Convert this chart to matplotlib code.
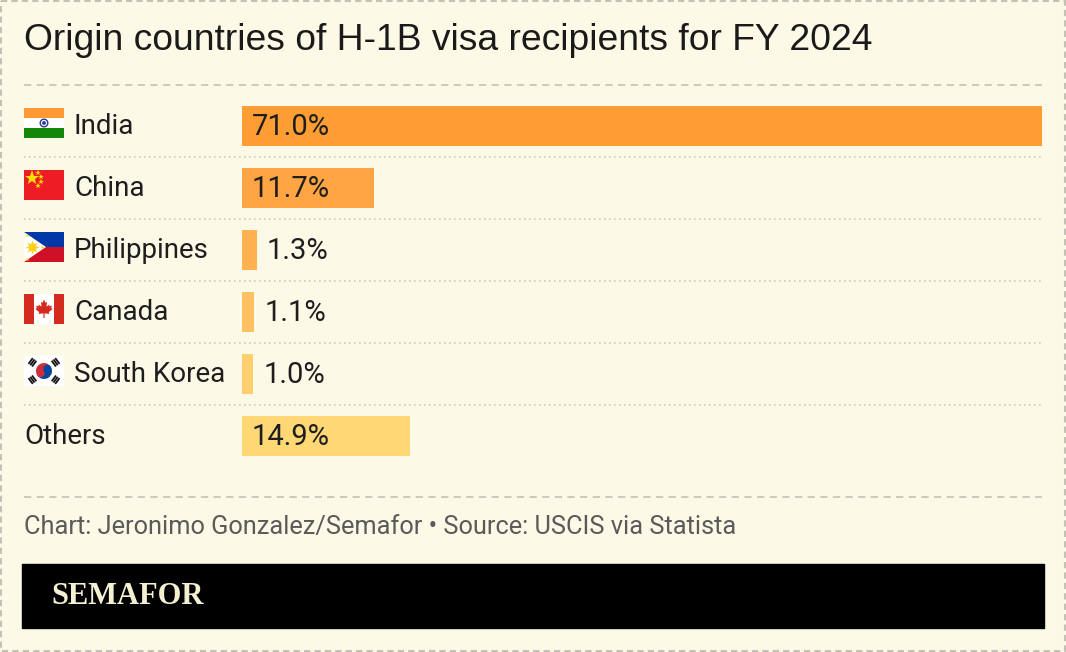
import matplotlib
matplotlib.use("Agg")
import matplotlib.pyplot as plt
from matplotlib.patches import Rectangle, Polygon, Circle, Wedge
import numpy as np

# ---- data ----
countries = ["India", "China", "Philippines", "Canada", "South Korea", "Others"]
shares = [71.0, 11.7, 1.3, 1.1, 1.0, 14.9]
value_labels = ["71.0%", "11.7%", "1.3%", "1.1%", "1.0%", "14.9%"]
bar_colors = ["#FF9D35", "#FFA543", "#FFB24F", "#FFC160", "#FFCF6E", "#FFD876"]
inside = [True, True, False, False, False, True]
title = "Origin countries of H-1B visa recipients for FY 2024"
footer = "Chart: Jeronimo Gonzalez/Semafor \u2022 Source: USCIS via Statista"
brand = "SEMAFOR"

BG = "#FDF9E7"
W, H = 1066, 652
fig = plt.figure(figsize=(W / 100, H / 100), dpi=100, facecolor=BG)

# overlay axes in pixel coordinates
ov = fig.add_axes([0, 0, 1, 1], zorder=0)
ov.set_xlim(0, W)
ov.set_ylim(H, 0)
ov.axis("off")

# outer dashed border
ov.add_patch(Rectangle((1, 1), W - 2.5, H - 2.5, fill=False, ec="#C4C1B6",
                       lw=1.5, ls=(0, (3, 2))))

# title
ov.text(24, 50, title, fontsize=26.8, family="Liberation Sans", color="#1A1A1A",
        va="baseline", ha="left")

# dashed rules
ov.plot([24, 1042], [85, 85], color="#C9C6BB", lw=1.3, ls=(0, (4, 3)))
ov.plot([24, 1042], [497, 497], color="#C9C6BB", lw=1.3, ls=(0, (4, 3)))

row0, step = 126, 62
for i in range(1, len(countries)):
    y = row0 + step * i - step / 2
    ov.plot([24, 1042], [y, y], color="#CFCBBE", lw=1.2, ls=(0, (1, 2)))

# footer
ov.text(24, 527, footer, fontsize=18.3, family="Roboto", color="#5A5A5A",
        va="center", ha="left")
ov.add_patch(Rectangle((22, 564), 1022, 64, color="#000000"))
ov.text(51, 597, brand, fontsize=22, family="Liberation Serif", weight="bold",
        color="#F6F0D2", va="center", ha="left")

# ---- flags ----
def flag_india(x, y):
    ov.add_patch(Rectangle((x, y), 40, 10, color="#FF9933", lw=0))
    ov.add_patch(Rectangle((x, y + 10), 40, 10, color="#FFFFFF", lw=0))
    ov.add_patch(Rectangle((x, y + 20), 40, 10, color="#138808", lw=0))
    ov.add_patch(Circle((x + 20, y + 15), 3.8, fill=False, ec="#2A3A8C", lw=1))
    ov.add_patch(Circle((x + 20, y + 15), 1.2, color="#2A3A8C"))

def flag_china(x, y):
    ov.add_patch(Rectangle((x, y), 40, 30, color="#EE1C25", lw=0))
    ov.plot([x + 7.5], [y + 8], marker="*", ms=11, color="#FFDE00", mew=0)
    for dx, dy in [(14, 3), (17, 7), (17, 12), (14, 15.5)]:
        ov.plot([x + dx], [y + dy], marker="*", ms=3.8, color="#FFDE00", mew=0)

def flag_ph(x, y):
    ov.add_patch(Rectangle((x, y), 40, 15, color="#0038A8", lw=0))
    ov.add_patch(Rectangle((x, y + 15), 40, 15, color="#CE1126", lw=0))
    ov.add_patch(Polygon([(x, y), (x + 22, y + 15), (x, y + 30)], color="#FFFFFF", lw=0))
    ov.plot([x + 8], [y + 15], marker=(8, 1, 0), ms=10, color="#FCD116", mew=0)
    for sx, sy in [(x + 2.5, y + 3), (x + 2.5, y + 27), (x + 17.5, y + 15)]:
        ov.plot([sx], [sy], marker="*", ms=3, color="#FCD116", mew=0)

def flag_canada(x, y):
    ov.add_patch(Rectangle((x, y), 40, 30, color="#FFFFFF", lw=0))
    ov.add_patch(Rectangle((x, y), 10, 30, color="#D52B1E", lw=0))
    ov.add_patch(Rectangle((x + 30, y), 10, 30, color="#D52B1E", lw=0))
    cx, cy = x + 20, y + 15
    leaf = [(0, -10), (1.6, -6.5), (3.2, -7.5), (2.6, -2.5), (6, -5), (5.2, -3),
            (8.5, -3.5), (7.4, -1.2), (9, 0), (5, 3.4), (5.6, 5.2), (0.6, 4.6),
            (0.6, 9.5), (-0.6, 9.5), (-0.6, 4.6), (-5.6, 5.2), (-5, 3.4), (-9, 0),
            (-7.4, -1.2), (-8.5, -3.5), (-5.2, -3), (-6, -5), (-2.6, -2.5),
            (-3.2, -7.5), (-1.6, -6.5)]
    ov.add_patch(Polygon([(cx + a * 0.95, cy + b * 0.95) for a, b in leaf],
                         color="#D52B1E", lw=0))

def flag_korea(x, y):
    ov.add_patch(Rectangle((x, y), 40, 30, color="#FFFFFF", lw=0))
    cx, cy, r = x + 20, y + 15, 8.0
    ang = 33.7
    # y axis is inverted: visual angle phi -> data angle -phi
    ov.add_patch(Wedge((cx, cy), r, 180 - ang, 360 - ang, color="#CD2E3A", lw=0))
    ov.add_patch(Wedge((cx, cy), r, -ang, 180 - ang, color="#0047A0", lw=0))
    ux, uy = np.cos(np.deg2rad(ang)), -np.sin(np.deg2rad(ang))
    ov.add_patch(Circle((cx - ux * r / 2, cy - uy * r / 2), r / 2, color="#CD2E3A", lw=0))
    ov.add_patch(Circle((cx + ux * r / 2, cy + uy * r / 2), r / 2, color="#0047A0", lw=0))
    # trigrams
    for sgx, sgy in [(-1, -1), (1, -1), (-1, 1), (1, 1)]:
        d = np.array([sgx * 1.0, sgy * 0.75])
        d = d / np.linalg.norm(d)
        perp = np.array([-d[1], d[0]])
        center = np.array([cx, cy]) + d * 14.5
        for k in (-1, 0, 1):
            c = center + d * k * 2.2
            p1 = c - perp * 3.6
            p2 = c + perp * 3.6
            ov.plot([p1[0], p2[0]], [p1[1], p2[1]], color="#111111", lw=1.3,
                    solid_capstyle="butt")

flag_funcs = [flag_india, flag_china, flag_ph, flag_canada, flag_korea, None]

label_font = "Roboto"
for i, name in enumerate(countries):
    rc = row0 + step * i
    f = flag_funcs[i]
    if f is not None:
        f(24, rc - 18)
        tx = 74
    else:
        tx = 24
    ov.text(tx, rc + 1, name, fontsize=20, family=label_font, color="#1E1E1E",
            va="center", ha="left")

# ---- bar axes ----
ax_top, ax_bot = 95, 467
ax = fig.add_axes([242 / W, 1 - ax_bot / H, (1042 - 242) / W, (ax_bot - ax_top) / H],
                  zorder=2)
ax.patch.set_alpha(0)
ypos = np.arange(len(countries))
ax.barh(ypos, shares, height=40 / 62, color=bar_colors, lw=0)
ax.set_xlim(0, max(shares))
ax.set_ylim(len(countries) - 0.5, -0.5)
ax.axis("off")
for i, (v, lab) in enumerate(zip(shares, value_labels)):
    anchor = 0 if inside[i] else v
    ax.annotate(lab, (anchor, i), xytext=(7.2, -0.7), textcoords="offset points",
                va="center", ha="left", fontsize=21, family=label_font,
                color="#1E1E1E")

fig.savefig("out.png", dpi=100, facecolor=BG)
